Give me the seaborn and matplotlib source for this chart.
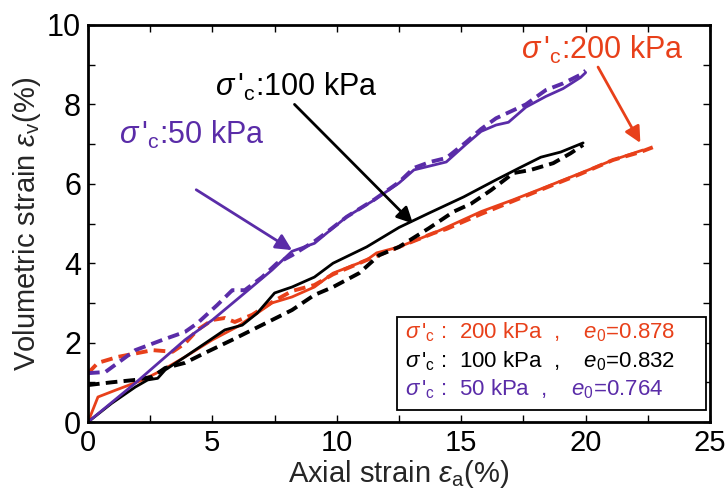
import matplotlib
matplotlib.use("Agg")
import matplotlib.pyplot as plt
import seaborn as sns
import numpy as np
import pandas as pd
from matplotlib.patches import Rectangle
from matplotlib.ticker import MultipleLocator

# ---------------- data ----------------
p50_solid_x = [0, 1.9, 3.9, 5.0, 6.3, 7.4, 8.2, 9.1, 9.6, 10.4, 11.5, 12.5, 13.1, 13.75, 14.4, 15.2, 15.8, 16.4, 16.9, 17.6, 18.4, 19.1, 19.8, 20.0]
p50_solid_y = [0, 0.98, 2.07, 2.57, 3.25, 3.83, 4.3, 4.5, 4.76, 5.17, 5.59, 6.02, 6.35, 6.45, 6.55, 7.0, 7.32, 7.48, 7.55, 7.93, 8.2, 8.4, 8.68, 8.8]
p50_dash_x = [0, 0.7, 1.9, 3.0, 3.9, 4.4, 5.2, 5.8, 6.3, 7.0, 7.6, 8.2, 9.1, 9.6, 10.4, 11.5, 12.5, 13.1, 13.75, 14.4, 15.2, 15.8, 16.4, 17.6, 18.4, 19.1, 19.8, 20.0]
p50_dash_y = [1.23, 1.26, 1.81, 2.07, 2.27, 2.49, 2.95, 3.32, 3.32, 3.65, 4.0, 4.2, 4.55, 4.78, 5.17, 5.6, 6.04, 6.4, 6.55, 6.65, 7.05, 7.38, 7.65, 8.0, 8.36, 8.53, 8.75, 8.85]

p100_solid_x = [0, 0.95, 1.9, 2.4, 2.8, 3.1, 3.9, 4.7, 5.5, 6.2, 6.8, 7.5, 8.2, 9.1, 9.85, 11.2, 12.5, 13.7, 15.1, 16.4, 17.4, 18.2, 19.0, 19.9]
p100_solid_y = [0, 0.47, 0.88, 1.06, 1.1, 1.31, 1.64, 1.98, 2.32, 2.44, 2.74, 3.25, 3.4, 3.65, 4.0, 4.41, 4.9, 5.26, 5.67, 6.1, 6.42, 6.67, 6.8, 7.03]
p100_dash_x = [0, 0.95, 1.9, 2.6, 3.1, 3.9, 4.7, 5.8, 6.6, 7.4, 8.2, 9.1, 9.85, 10.9, 11.7, 12.5, 13.7, 14.7, 15.4, 16.2, 17.1, 17.8, 18.7, 19.4, 19.9]
p100_dash_y = [0.93, 1.0, 1.06, 1.14, 1.36, 1.49, 1.74, 2.07, 2.32, 2.57, 2.82, 3.2, 3.4, 3.75, 4.2, 4.41, 4.88, 5.3, 5.5, 5.84, 6.27, 6.35, 6.52, 6.77, 6.98]

p200_solid_x = [0, 0.4, 1.1, 2.2, 3.0, 3.9, 5.0, 6.0, 6.8, 7.4, 8.2, 9.1, 9.85, 11.2, 11.6, 12.5, 13.9, 14.4, 15.8, 17.1, 18.4, 19.8, 21.1, 22.3]
p200_solid_y = [0, 0.63, 0.8, 1.06, 1.31, 1.64, 2.07, 2.4, 2.74, 3.0, 3.15, 3.4, 3.75, 4.08, 4.26, 4.41, 4.76, 4.9, 5.3, 5.6, 5.92, 6.27, 6.6, 6.85]
p200_dash_x = [0, 0.4, 1.2, 2.6, 3.4, 3.9, 4.4, 5.0, 5.5, 5.9, 6.6, 7.4, 8.2, 9.1, 9.85, 11.2, 12.5, 13.9, 14.4, 15.8, 17.1, 18.4, 19.8, 21.1, 22.2, 22.7]
p200_dash_y = [1.23, 1.49, 1.64, 1.81, 1.77, 1.98, 2.32, 2.57, 2.62, 2.52, 2.7, 3.02, 3.3, 3.45, 3.72, 4.08, 4.41, 4.76, 4.86, 5.24, 5.57, 5.9, 6.25, 6.6, 6.8, 6.92]

legend_labels = [
    r"$\sigma\,$'$_{\rm c}$ :  200 kPa  ,    $e_{\mathit{0}}$=0.878",
    r"$\sigma\,$'$_{\rm c}$ :  100 kPa  ,    $e_{\mathit{0}}$=0.832",
    r"$\sigma\,$'$_{\rm c}$ :  50 kPa  ,    $e_{\mathit{0}}$=0.764",
]
x_ticks = [0, 5, 10, 15, 20, 25]
y_ticks = [0, 2, 4, 6, 8, 10]

RED = "#E8401A"
BLACK = "#000000"
PURPLE = "#5A2CA8"

# ---------------- style ----------------
sns.set_theme(style="white")
plt.rcParams["font.family"] = ["Liberation Sans", "DejaVu Sans"]
plt.rcParams["mathtext.fontset"] = "custom"
plt.rcParams["mathtext.rm"] = "Liberation Sans"
plt.rcParams["mathtext.it"] = "Liberation Sans:italic"
plt.rcParams["mathtext.bf"] = "Liberation Sans:bold"

fig = plt.figure(figsize=(7.28, 4.96), dpi=100)
ax = fig.add_axes([88 / 728, 74 / 496, 622 / 728, 397 / 496])

series = [
    (p200_solid_x, p200_solid_y, RED, "-", 2.0),
    (p200_dash_x, p200_dash_y, RED, (0, (3.0, 1.6)), 2.8),
    (p100_solid_x, p100_solid_y, BLACK, "-", 2.0),
    (p100_dash_x, p100_dash_y, BLACK, (0, (3.0, 1.6)), 2.8),
    (p50_solid_x, p50_solid_y, PURPLE, "-", 2.0),
    (p50_dash_x, p50_dash_y, PURPLE, (0, (3.0, 1.6)), 2.8),
]
for xs, ys, c, ls, lw in series:
    df = pd.DataFrame({"x": xs, "y": ys})
    sns.lineplot(data=df, x="x", y="y", ax=ax, color=c, linestyle=ls,
                 linewidth=lw, sort=False, estimator=None)

ax.set_xlim(0, 25)
ax.set_ylim(0, 10)
ax.set_xticks(x_ticks)
ax.set_yticks(y_ticks)
ax.xaxis.set_minor_locator(MultipleLocator(2.5))
ax.yaxis.set_minor_locator(MultipleLocator(1))
ax.set_xticklabels([str(t) for t in x_ticks])
ax.set_yticklabels([str(t) for t in y_ticks])
ax.tick_params(which="both", direction="in", top=True, right=True,
               bottom=True, left=True, length=5, width=1.0, colors="black")
ax.tick_params(axis="x", which="major", labelsize=21, pad=5)
ax.tick_params(axis="y", which="major", labelsize=22, pad=5)
for s in ax.spines.values():
    s.set_linewidth(2.0)
    s.set_color("black")

ax.set_xlabel(r"Axial strain $\varepsilon_{\rm a}$(%)", fontsize=21, labelpad=1)
ax.set_ylabel(r"Volumetric strain $\varepsilon_{\rm v}$(%)", fontsize=21, labelpad=3)

arrow_kw = dict(arrowstyle="-|>", lw=2, mutation_scale=24, shrinkA=0, shrinkB=0)

# annotations
ax.text(17.4, 9.37, r"$\sigma\,$'$_{\rm c}$:200 kPa", color=RED, fontsize=22,
        va="center", ha="left")
ax.annotate("", xy=(22.2, 7.03), xytext=(20.5, 8.94),
            arrowprops=dict(color=RED, **arrow_kw))
ax.text(5.1, 8.45, r"$\sigma\,$'$_{\rm c}$:100 kPa", color=BLACK, fontsize=22,
        va="center", ha="left")
ax.annotate("", xy=(13.06, 5.0), xytext=(8.3, 8.0),
            arrowprops=dict(color=BLACK, **arrow_kw))
ax.text(1.25, 7.22, r"$\sigma\,$'$_{\rm c}$:50 kPa", color=PURPLE, fontsize=22,
        va="center", ha="left")
ax.annotate("", xy=(8.2, 4.33), xytext=(4.35, 5.85),
            arrowprops=dict(color=PURPLE, **arrow_kw))

# legend box (text only)
ax.add_patch(Rectangle((0.4968, 0.0302), 0.9936 - 0.4968, 0.2645 - 0.0302,
                       transform=ax.transAxes, facecolor="white",
                       edgecolor="black", linewidth=1.3, zorder=5))
for lab, c, yy in zip(legend_labels, [RED, BLACK, PURPLE], [0.2267, 0.1537, 0.0831]):
    ax.text(0.5096, yy, lab, color=c, fontsize=16, transform=ax.transAxes,
            va="center", ha="left", zorder=6)

fig.savefig("out.png", dpi=100)
